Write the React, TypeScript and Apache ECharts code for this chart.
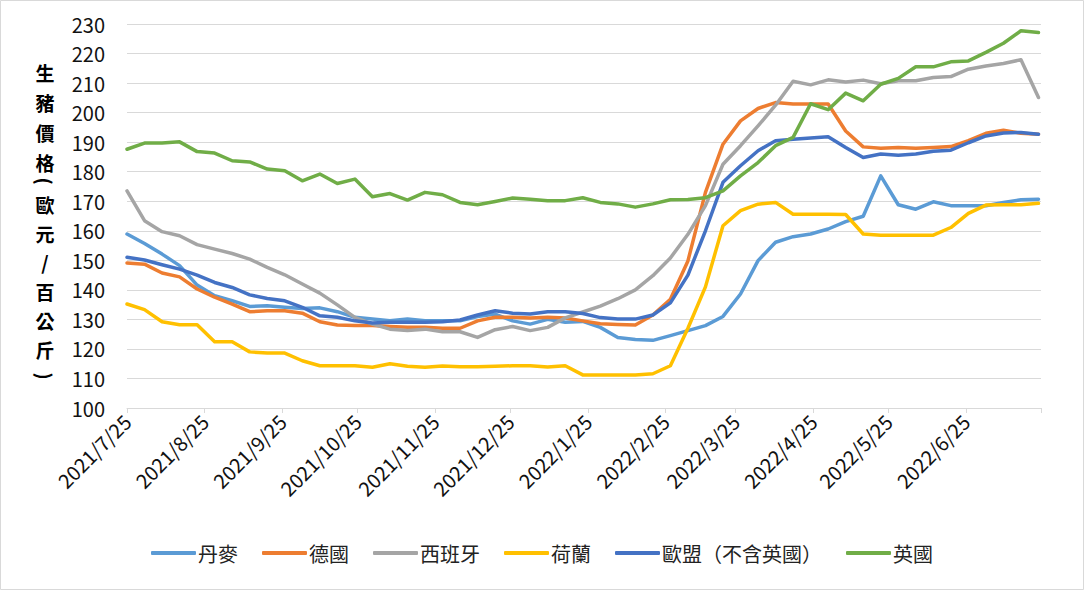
import React, { useEffect, useRef } from "react";
import * as echarts from "echarts";

const startDate = "2021/7/25";
const axisEndDate = "2022/7/25";
const tickLabels = [
  "2021/7/25", "2021/8/25", "2021/9/25", "2021/10/25", "2021/11/25", "2021/12/25",
  "2022/1/25", "2022/2/25", "2022/3/25", "2022/4/25", "2022/5/25", "2022/6/25",
];
const yTitle = ["生", "豬", "價", "格", "(", "歐", "元", "/", "百", "公", "斤", ")"];
const seriesNames = ["丹麥", "德國", "西班牙", "荷蘭", "歐盟（不含英國）", "英國"];
const seriesColors = ["#5B9BD5", "#ED7D31", "#A5A5A5", "#FFC000", "#4472C4", "#70AD47"];

const denmark = [
  158.9, 155.7, 152.1, 148.2, 141.6, 138.0, 136.3, 134.4, 134.6, 134.1, 133.7, 133.9, 132.6,
  130.7, 130.1, 129.5, 130.1, 129.5, 129.5, 129.5, 131.0, 131.8, 129.5, 128.4, 130.0, 129.0,
  129.3, 127.3, 123.9, 123.2, 122.9, 124.5, 126.2, 127.9, 131.0, 138.6, 149.9, 156.1, 158.0,
  158.9, 160.6, 163.1, 164.9, 178.6, 168.8, 167.3, 169.8, 168.5, 168.5, 168.5, 169.6, 170.5, 170.7,
];
const germany = [
  149.1, 148.7, 145.7, 144.4, 140.3, 137.5, 135.2, 132.6, 132.9, 132.9, 132.1, 129.2, 128.1,
  127.9, 127.9, 127.6, 127.3, 127.3, 127.0, 127.0, 129.5, 130.7, 130.7, 130.5, 130.7, 130.5,
  129.5, 128.5, 128.3, 128.1, 131.5, 136.8, 149.8, 173.0, 189.3, 197.2, 201.4, 203.4, 202.9,
  202.9, 202.9, 193.8, 188.4, 187.9, 188.2, 187.9, 188.2, 188.5, 190.5, 193.0, 194.0, 193.0, 192.7,
];
const spain = [
  173.5, 163.4, 159.7, 158.3, 155.3, 153.8, 152.3, 150.4, 147.6, 145.1, 142.0, 138.9, 134.9,
  130.7, 128.4, 126.7, 126.2, 126.7, 125.8, 125.8, 123.9, 126.5, 127.6, 126.2, 127.3, 130.5,
  132.5, 134.5, 137.0, 140.0, 144.8, 150.8, 158.8, 168.5, 182.5, 188.8, 195.5, 202.5, 210.6,
  209.4, 211.1, 210.4, 211.0, 209.8, 210.8, 210.8, 211.9, 212.2, 214.7, 215.8, 216.6, 217.9, 205.1,
];
const netherlands = [
  135.2, 133.3, 129.2, 128.2, 128.2, 122.4, 122.4, 119.0, 118.6, 118.6, 116.0, 114.3, 114.3,
  114.3, 113.8, 115.0, 114.1, 113.8, 114.2, 114.0, 114.0, 114.1, 114.3, 114.3, 113.9, 114.3,
  111.2, 111.2, 111.2, 111.2, 111.6, 114.3, 127.0, 141.0, 161.7, 166.8, 169.0, 169.6, 165.6,
  165.6, 165.6, 165.5, 158.9, 158.5, 158.5, 158.5, 158.5, 161.1, 165.9, 168.7, 168.8, 168.8, 169.3,
];
const euExUk = [
  151.0, 150.1, 148.5, 147.0, 145.0, 142.5, 140.8, 138.3, 137.1, 136.3, 134.1, 131.2, 130.7,
  129.5, 128.8, 129.0, 129.0, 129.0, 129.2, 129.8, 131.5, 132.9, 132.1, 131.8, 132.6, 132.6,
  132.0, 130.6, 130.1, 130.1, 131.5, 135.6, 145.0, 160.0, 176.4, 182.0, 187.1, 190.5, 191.0,
  191.4, 191.8, 188.2, 184.8, 186.0, 185.6, 186.0, 186.9, 187.3, 189.8, 192.1, 193.1, 193.3, 192.7,
];
const uk = [
  187.6, 189.7, 189.7, 190.1, 186.8, 186.3, 183.7, 183.3, 180.9, 180.3, 176.9, 179.2, 176.0,
  177.5, 171.5, 172.6, 170.4, 173.0, 172.2, 169.6, 168.8, 169.9, 171.1, 170.7, 170.2, 170.2,
  171.2, 169.6, 169.1, 168.0, 169.1, 170.5, 170.6, 171.2, 173.5, 178.6, 183.1, 188.8, 191.6,
  203.0, 201.0, 206.6, 204.0, 209.6, 211.6, 215.5, 215.5, 217.2, 217.5, 220.4, 223.5, 227.7, 227.1,
];
const allSeries = [denmark, germany, spain, netherlands, euExUk, uk];
const WEEK_DAYS = 7;

function toUTC(s: string) {
  const [y, m, d] = s.split("/").map(Number);
  return Date.UTC(y, m - 1, d);
}
function dayOffset(s: string) {
  return Math.round((toUTC(s) - toUTC(startDate)) / 86400000);
}

const FONT = "'Noto Sans CJK TC', 'Noto Sans', sans-serif";

export default function App() {
  const ref = useRef<HTMLDivElement>(null);
  useEffect(() => {
    if (!ref.current) return;
    const chart = echarts.init(ref.current, undefined, { renderer: "svg" });
    const tickOffsets = tickLabels.map(dayOffset);
    const endOffset = dayOffset(axisEndDate);
    const labelMap: Record<number, string> = {};
    tickLabels.forEach((l, i) => (labelMap[tickOffsets[i]] = l));

    const titleYs = [72, 102, 132, 162, 181, 204, 233, 261, 291, 320, 349, 376];
    const titleGraphics = yTitle.map((ch, i) => {
      const isParen = ch === "(" || ch === ")";
      return {
        type: "text",
        x: 45,
        y: titleYs[i],
        rotation: isParen ? -Math.PI / 2 : 0,
        style: {
          text: ch,
          fontSize: 19,
          fontWeight: "bold",
          fontFamily: FONT,
          fill: "#000",
          align: "center",
          verticalAlign: "middle",
        },
      };
    });

    chart.setOption({
      animation: false,
      backgroundColor: "#fff",
      textStyle: { fontFamily: FONT },
      grid: { left: 127, right: 43, top: 24, bottom: 182 },
      legend: {
        bottom: 22,
        left: "center",
        icon: "roundRect",
        itemWidth: 45,
        itemHeight: 4,
        itemGap: 24,
        textStyle: { fontSize: 20, color: "#222", fontFamily: FONT, padding: [0, 0, 0, -3] },
        data: seriesNames,
      },
      xAxis: {
        type: "value",
        min: 0,
        max: endOffset,
        axisLine: { show: true, lineStyle: { color: "#d9d9d9", width: 1 } },
        axisTick: {
          show: true,
          customValues: [...tickOffsets, endOffset],
          length: 5,
          lineStyle: { color: "#d9d9d9" },
        },
        axisLabel: {
          customValues: tickOffsets,
          rotate: 45,
          fontSize: 20,
          color: "#111",
          margin: 10,
          hideOverlap: false,
          formatter: (v: number) => labelMap[Math.round(v)] ?? "",
        },
        splitLine: { show: false },
      },
      yAxis: {
        type: "value",
        min: 100,
        max: 230,
        interval: 10,
        axisLine: { show: false },
        axisTick: { show: false },
        axisLabel: { fontSize: 20, color: "#111", margin: 22 },
        splitLine: { lineStyle: { color: "#d9d9d9", width: 1 } },
      },
      graphic: [
        {
          type: "rect",
          shape: { x: 0.5, y: 0.5, width: 1083, height: 589 },
          style: { fill: "none", stroke: "#d9d9d9", lineWidth: 1 },
          silent: true,
        },
        ...titleGraphics,
      ],
      series: allSeries.map((vals, si) => ({
        name: seriesNames[si],
        type: "line",
        data: vals.map((v, i) => [i * WEEK_DAYS, v]),
        showSymbol: false,
        symbol: "none",
        lineStyle: { color: seriesColors[si], width: 3.5, cap: "round", join: "round" },
        itemStyle: { color: seriesColors[si] },
      })),
    });
    return () => chart.dispose();
  }, []);
  return (
    <div
      ref={ref}
      style={{ position: "fixed", left: 0, top: 0, width: 1084, height: 590 }}
    />
  );
}
